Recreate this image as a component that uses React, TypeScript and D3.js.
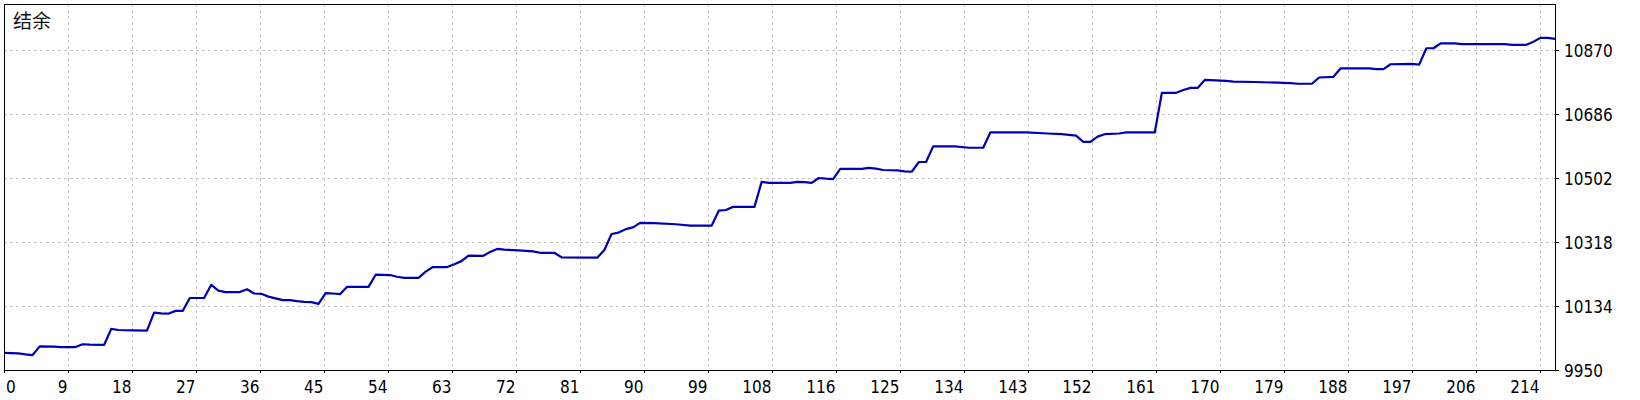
import { useEffect, useRef } from 'react';
import * as d3 from 'd3';

// trade number and balance at each corner of the curve
const tradeIndex = [
  0, 2, 3, 4, 5, 7, 8, 10, 11, 12, 14, 15, 16, 18, 20, 21, 22, 23, 24, 25, 26, 28, 29, 30, 31, 33, 34, 35, 36, 37, 38,
  39, 40, 41, 42, 43, 44, 45, 46, 47, 48, 51, 52, 54, 55, 56, 58, 59, 60, 62, 63, 64, 65, 67, 68, 69, 70, 72, 74, 75,
  77, 78, 83, 84, 85, 86, 87, 88, 89, 91, 94, 96, 99, 100, 101, 102, 105, 106, 107, 110, 111, 112, 113, 114, 115, 116,
  117, 120, 121, 122, 123, 125, 126, 127, 128, 129, 130, 133, 135, 137, 138, 143, 146, 148, 150, 151, 152, 153, 154,
  156, 157, 161, 162, 164, 165, 166, 167, 168, 171, 172, 175, 180, 181, 183, 184, 186, 187, 191, 192, 193, 194, 197,
  198, 199, 200, 201, 203, 204, 210, 211, 213, 214, 215, 216, 217,
];
const balance = [
  9999, 9998, 9995, 9993, 10018, 10017, 10016, 10016, 10024, 10023, 10022, 10068, 10065, 10064, 10063, 10115, 10113,
  10112, 10120, 10120, 10157, 10157, 10195, 10178, 10174, 10174, 10182, 10170, 10169, 10161, 10156, 10151, 10151,
  10148, 10146, 10145, 10140, 10171, 10170, 10168, 10189, 10189, 10224, 10223, 10218, 10215, 10215, 10233, 10246,
  10246, 10254, 10263, 10279, 10278, 10289, 10298, 10296, 10294, 10291, 10287, 10287, 10274, 10273, 10295, 10341,
  10345, 10355, 10360, 10373, 10372, 10369, 10365, 10365, 10408, 10410, 10419, 10419, 10491, 10488, 10488, 10491,
  10490, 10488, 10502, 10500, 10499, 10528, 10528, 10531, 10529, 10525, 10524, 10521, 10520, 10548, 10548, 10593,
  10593, 10589, 10589, 10633, 10633, 10630, 10628, 10624, 10606, 10606, 10621, 10628, 10630, 10633, 10633, 10747,
  10747, 10755, 10761, 10761, 10784, 10781, 10779, 10778, 10775, 10773, 10773, 10791, 10793, 10817, 10817, 10815,
  10815, 10829, 10830, 10828, 10875, 10875, 10889, 10889, 10887, 10887, 10885, 10885, 10894, 10905, 10905, 10902,
];

const xTickLabels = [
  '0', '9', '18', '27', '36', '45', '54', '63', '72', '81', '90', '99', '108', '116', '125', '134', '143', '152',
  '161', '170', '179', '188', '197', '206', '214',
];
const yTicks = [9950, 10134, 10318, 10502, 10686, 10870];
const title = '结余';

const width = 1640;
const height = 400;
const frame = { left: 4, right: 1555, top: 4, bottom: 370 };
const lastTrade = 217;
const tickFont = '"DejaVu Sans Condensed", "Liberation Sans", sans-serif';

export default function App() {
  const svgRef = useRef<SVGSVGElement>(null);

  useEffect(() => {
    if (!svgRef.current) return;
    const svg = d3.select(svgRef.current);
    svg.selectAll('*').remove();

    const xScale = d3.scaleLinear().domain([0, lastTrade]).range([frame.left, frame.right]);
    const yScale = d3
      .scaleLinear()
      .domain([yTicks[0], yTicks[yTicks.length - 1]])
      .range([frame.bottom, 50]);

    // one x tick every 64px
    const xStep = xScale.invert(frame.left + 64) - xScale.invert(frame.left);
    const xTickValues = xTickLabels.map((_, i) => i * xStep);

    svg.append('rect').attr('width', width).attr('height', height).attr('fill', '#ffffff');

    // grid
    const grid = svg.append('g').attr('stroke', '#c8c8c8').attr('stroke-dasharray', '3,3').attr('shape-rendering', 'crispEdges');
    xTickValues.slice(1).forEach((v) => {
      const x = Math.round(xScale(v)) + 0.5;
      grid.append('line').attr('x1', x).attr('x2', x).attr('y1', frame.top).attr('y2', frame.bottom);
    });
    yTicks.slice(1).forEach((v) => {
      const y = Math.round(yScale(v)) + 0.5;
      grid.append('line').attr('x1', frame.left).attr('x2', frame.right).attr('y1', y).attr('y2', y);
    });

    // balance line
    const points = tradeIndex.map((t, i) => [t, balance[i]] as [number, number]);
    const line = d3
      .line<[number, number]>()
      .x((d) => xScale(d[0]))
      .y((d) => yScale(d[1]));
    svg
      .append('path')
      .datum(points)
      .attr('fill', 'none')
      .attr('stroke', '#0000b4')
      .attr('stroke-width', 2.2)
      .attr('stroke-linejoin', 'round')
      .attr('d', line);

    // frame
    svg
      .append('rect')
      .attr('x', frame.left + 0.5)
      .attr('y', frame.top + 0.5)
      .attr('width', frame.right - frame.left)
      .attr('height', frame.bottom - frame.top)
      .attr('fill', 'none')
      .attr('stroke', '#000000')
      .attr('shape-rendering', 'crispEdges');

    // x ticks and labels
    const xAxis = svg.append('g').attr('font-family', tickFont).attr('font-size', 17).attr('fill', '#000000');
    xTickValues.forEach((v, i) => {
      const x = Math.round(xScale(v)) + 0.5;
      xAxis
        .append('line')
        .attr('x1', x)
        .attr('x2', x)
        .attr('y1', frame.bottom)
        .attr('y2', frame.bottom + 3)
        .attr('stroke', '#000000')
        .attr('shape-rendering', 'crispEdges');
      xAxis
        .append('text')
        .attr('x', i === 0 ? frame.left + 2 : x - 1)
        .attr('y', 393)
        .attr('text-anchor', i === 0 ? 'start' : 'end')
        .text(xTickLabels[i]);
    });

    // y ticks and labels (right side)
    const yAxis = svg.append('g').attr('font-family', tickFont).attr('font-size', 17).attr('fill', '#000000');
    yTicks.forEach((v) => {
      const y = Math.round(yScale(v)) + 0.5;
      yAxis
        .append('line')
        .attr('x1', frame.right)
        .attr('x2', frame.right + 4)
        .attr('y1', y)
        .attr('y2', y)
        .attr('stroke', '#000000')
        .attr('shape-rendering', 'crispEdges');
      yAxis
        .append('text')
        .attr('x', frame.right + 9)
        .attr('y', y + 6.5)
        .text(String(v));
    });

    svg
      .append('text')
      .attr('x', 13)
      .attr('y', 28)
      .attr('font-family', '"Noto Sans CJK SC", sans-serif')
      .attr('font-size', 19)
      .attr('fill', '#111111')
      .text(title);
  }, []);

  return (
    <svg
      ref={svgRef}
      width={width}
      height={height}
      style={{ position: 'absolute', left: 0, top: 0, display: 'block' }}
    />
  );
}
